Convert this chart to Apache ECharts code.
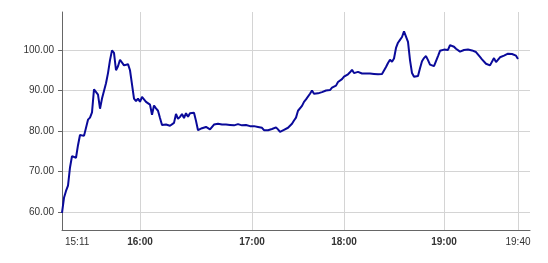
<!DOCTYPE html>
<html><head><meta charset="utf-8">
<script src="https://cdn.jsdelivr.net/npm/echarts@6/dist/echarts.min.js"></script>
<style>html,body{margin:0;padding:0;background:#fff}#c{width:548px;height:263px}</style>
</head><body><div id="c"></div>
<script>
// sample values (one per sample, equally spaced on the category axis)
var values = [
59.8,63.5,65.2,66.5,71.0,73.8,73.6,73.4,76.5,79.0,
79.4,78.8,79.2,82.8,83.3,84.6,90.3,90.7,89.0,85.5,
88.0,88.3,91.8,94.3,97.5,99.9,99.3,95.0,96.0,97.6,
97.7,96.2,96.0,96.5,95.0,91.5,88.0,87.4,88.0,87.2,
88.4,87.8,87.2,87.0,86.5,84.0,86.3,85.6,85.0,83.2,
81.5,81.2,81.6,81.5,81.3,81.5,82.0,84.2,83.0,83.5,
84.2,83.2,84.4,83.5,84.4,84.8,84.5,82.5,80.2,80.4,
80.7,81.0,81.0,80.7,80.4,80.8,81.6,81.9,81.8,81.7,
81.6,81.4,81.6,81.7,81.5,81.6,81.4,81.6,81.7,81.5,
81.4,81.2,81.5,81.1,81.2,81.3,81.2,81.1,81.0,81.0,
80.8,80.2,80.4,80.2,80.4,80.5,80.6,80.9,80.4,79.8,
80.0,80.3,80.6,80.8,81.1,81.8,82.6,83.3,85.0,84.8,
86.2,87.2,87.8,87.9,89.2,90.0,89.2,89.0,89.3,89.5,
89.6,89.7,90.0,90.0,90.1,90.7,91.0,91.2,92.1,91.9,
92.8,93.4,93.7,94.0,94.5,95.1,94.3,94.1,94.6,94.8,
94.2,94.2,94.2,94.2,94.2,94.2,94.1,94.0,94.0,94.0,
94.1,94.3,95.8,96.8,97.6,97.1,97.9,100.5,101.8,102.5,
103.2,104.6,104.5,102.0,97.5,94.3,93.4,93.5,93.6,95.5,
97.2,98.0,98.5,97.5,96.4,96.3,96.0,96.1,98.5,99.8,
100.2,100.1,99.8,100.0,101.2,101.5,100.8,100.3,100.0,99.6,
99.3,100.0,100.2,100.1,100.0,99.9,99.7,99.5,99.1,98.3,
97.7,97.5,96.6,96.2,96.2,96.5,98.0,97.0,97.4,98.2,
98.4,98.6,98.9,99.1,99.3,99.0,99.2,98.6,97.8
];
// time labels and the sample slot at which each appears
var timeLabels = ['15:11','16:00','17:00','18:00','19:00','19:40'];
var timeLabelIndex = [0,39,95,141,191,228];
var boldLabels = ['16:00','17:00','18:00','19:00'];
var emptySlotsAfter = 6; // empty axis room after the last sample
// y-axis tick values
var yTicks = [60,70,80,90,100];
var yMin = 55.56, yMax = 109.38;

var categories = [];
for (var i = 0; i < values.length + emptySlotsAfter; i++) categories.push(i);
function labelAt(i){ var k = timeLabelIndex.indexOf(i); return k >= 0 ? timeLabels[k] : ''; }
function isLabel(i){ return timeLabelIndex.indexOf(i) >= 0; }

var chart = echarts.init(document.getElementById('c'), null, {renderer:'canvas'});
chart.setOption({
  animation:false,
  backgroundColor:'#fff',
  grid:{left:62,right:18,top:12,bottom:33,containLabel:false},
  xAxis:{
    type:'category', data:categories, boundaryGap:false,
    axisLine:{show:true,lineStyle:{color:'#666',width:1}},
    axisTick:{show:false},
    axisLabel:{
      interval:function(i){ return isLabel(i); },
      margin:7, alignMinLabel:'left',
      formatter:function(v){ var s = labelAt(+v); if(!s) return ''; return boldLabels.indexOf(s)>=0 ? '{b|'+s+'}' : (+v===0 ? '{f|'+s+'}' : '{n|'+s+'}'); },
      rich:{
        b:{fontFamily:'Liberation Sans',fontSize:10,fontWeight:'bold',color:'#333'},
        n:{fontFamily:'Liberation Sans',fontSize:10,color:'#333'},
        f:{fontFamily:'Liberation Sans',fontSize:10,color:'#333',padding:[0,0,0,3]}
      }
    },
    splitLine:{show:true,interval:function(i){ return isLabel(i) && i>0; },lineStyle:{color:'#d4d4d4',width:1}}
  },
  yAxis:{
    type:'value', min:yMin, max:yMax,
    axisLine:{show:true,lineStyle:{color:'#666',width:1}},
    axisTick:{show:true,length:4,customValues:yTicks,lineStyle:{color:'#666'}},
    axisLabel:{customValues:yTicks,margin:8,fontFamily:'Liberation Sans',fontSize:10,color:'#333',
      formatter:function(v){ return (+v).toFixed(2); }},
    splitLine:{show:true,lineStyle:{color:'#d4d4d4',width:1}}
  },
  series:[{
    type:'line', data:values, showSymbol:false, symbol:'none',
    lineStyle:{color:'#0a0a9a',width:2}, smooth:false
  }]
});
</script></body></html>
